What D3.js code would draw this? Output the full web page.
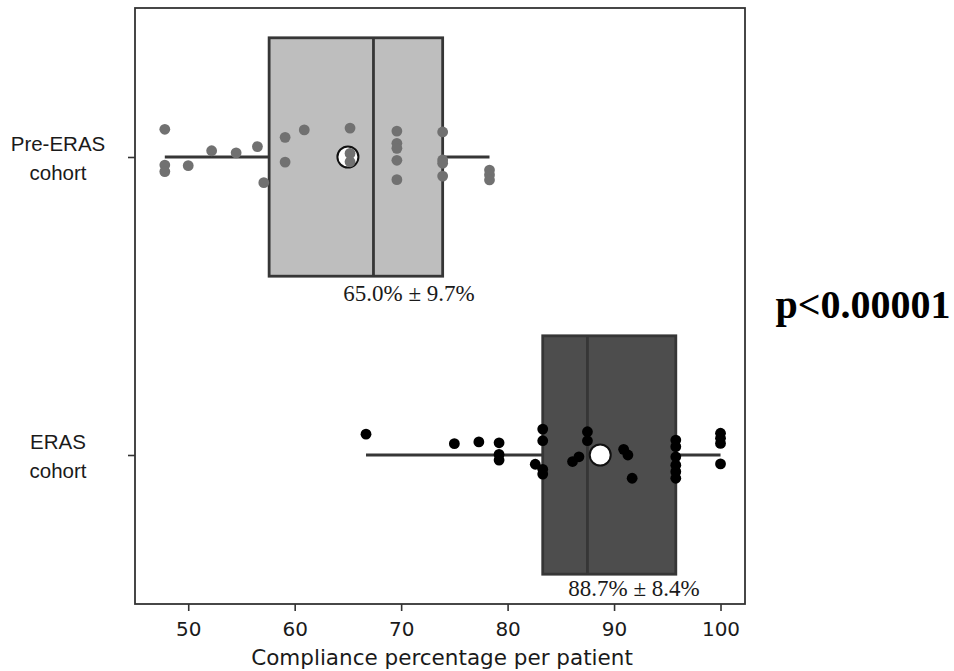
<!DOCTYPE html>
<html>
<head>
<meta charset="utf-8">
<script src="https://cdn.jsdelivr.net/npm/d3@7"></script>
<style>
  body { margin: 0; background: #fff; }
</style>
</head>
<body>
<div id="chart"><svg></svg></div>
<script>
const cohorts = ["Pre-ERAS cohort", "ERAS cohort"]
const boxStats = [
  { q1: 57.6, median: 67.4, q3: 73.9, lo: 47.8, hi: 78.3 },
  { q1: 83.3, median: 87.5, q3: 95.8, lo: 66.7, hi: 100 },
]
const means = [65.0, 88.7]
const meanLabels = ["65.0% ± 9.7%", "88.7% ± 8.4%"]
// per-patient compliance, with the strip jitter (in category units)
const preValues = [47.8, 47.8, 47.8, 50.0, 52.2, 54.5, 56.5, 57.1, 59.1, 59.1, 60.9, 65.2, 65.2, 65.2,
  69.6, 69.6, 69.6, 69.6, 69.6, 73.9, 73.9, 73.9, 73.9, 78.3, 78.3, 78.3]
const preJitter = [-0.093, 0.027, 0.049, 0.029, -0.021, -0.014, -0.035, 0.086, -0.066, 0.017, -0.091, -0.097, -0.012, 0.016,
  -0.087, -0.046, -0.029, 0.011, 0.076, -0.084, 0.010, 0.021, 0.064, 0.044, 0.060, 0.077]
const erasValues = [66.7, 75.0, 77.3, 79.2, 79.2, 79.2, 82.6, 83.3, 83.3, 83.3, 83.3, 86.1, 86.7, 87.5, 87.5,
  90.9, 91.3, 91.7, 95.8, 95.8, 95.8, 95.8, 95.8, 95.8, 100, 100, 100, 100]
const erasJitter = [-0.070, -0.038, -0.044, -0.041, -0.002, 0.017, 0.031, -0.087, -0.048, 0.048, 0.064, 0.022, 0.006, -0.078, -0.048,
  -0.019, 0.000, 0.078, -0.050, -0.028, 0.006, 0.034, 0.056, 0.078, -0.073, -0.056, -0.039, 0.030]
const xTicks = [50, 60, 70, 80, 90, 100]
const pText = "p<0.00001"

const width = 954
const height = 671
const plotLeft = 135, plotRight = 745, plotTop = 8, plotBottom = 604

const svg = d3.select("#chart svg").attr("width", width).attr("height", height)

const x = d3.scaleLinear().domain([45.0, 102.3]).range([plotLeft, plotRight])
const y = d3.scaleLinear().domain([-0.5, 1.5]).range([plotTop, plotBottom])
const boxFill = ["#bebebe", "#4d4d4d"]
const dotFill = ["#717171", "#000000"]
const edge = "#363636"

const points = [
  preValues.map((v, i) => ({ v, j: preJitter[i], c: 0 })),
  erasValues.map((v, i) => ({ v, j: erasJitter[i], c: 1 })),
].flat()

// boxes
boxStats.forEach((b, i) => {
  const g = svg.append("g")
  const y0 = y(i - 0.4), y1 = y(i + 0.4)
  g.append("line").attr("x1", x(b.lo)).attr("x2", x(b.q1)).attr("y1", y(i)).attr("y2", y(i))
    .attr("stroke", edge).attr("stroke-width", 2.8)
  g.append("line").attr("x1", x(b.q3)).attr("x2", x(b.hi)).attr("y1", y(i)).attr("y2", y(i))
    .attr("stroke", edge).attr("stroke-width", 2.8)
  g.append("rect").attr("x", x(b.q1)).attr("y", y0)
    .attr("width", x(b.q3) - x(b.q1)).attr("height", y1 - y0)
    .attr("fill", boxFill[i]).attr("stroke", edge).attr("stroke-width", 2.8)
  g.append("line").attr("x1", x(b.median)).attr("x2", x(b.median)).attr("y1", y0).attr("y2", y1)
    .attr("stroke", edge).attr("stroke-width", 2.8)
})

// means (drawn under the points)
svg.append("g").selectAll("circle").data(means).join("circle")
  .attr("cx", d => x(d))
  .attr("cy", (d, i) => y(i))
  .attr("r", 10.5)
  .attr("fill", "#fff")
  .attr("stroke", "#111")
  .attr("stroke-width", 2)

// strip points
svg.append("g").selectAll("circle").data(points).join("circle")
  .attr("cx", d => x(d.v))
  .attr("cy", d => y(d.c + d.j))
  .attr("r", 5.4)
  .attr("fill", d => dotFill[d.c])

// frame
svg.append("rect").attr("x", plotLeft).attr("y", plotTop)
  .attr("width", plotRight - plotLeft).attr("height", plotBottom - plotTop)
  .attr("fill", "none").attr("stroke", "#333").attr("stroke-width", 1.8)

// x axis
const xAxis = svg.append("g")
  .attr("transform", `translate(0, ${plotBottom})`)
  .call(d3.axisBottom(x).tickValues(xTicks).tickSize(7).tickPadding(11).tickSizeOuter(0))
xAxis.select(".domain").remove()
xAxis.selectAll("line").attr("stroke", "#333").attr("stroke-width", 1.6)
xAxis.selectAll("text").attr("font-family", "DejaVu Sans").attr("font-size", 20).attr("fill", "#1a1a1a")

svg.append("text")
  .attr("x", 442).attr("y", 665)
  .attr("text-anchor", "middle")
  .attr("font-family", "DejaVu Sans").attr("font-size", 21.5).attr("fill", "#1a1a1a")
  .text("Compliance percentage per patient")

// y axis
const yAxis = svg.append("g")
  .attr("transform", `translate(${plotLeft}, 0)`)
  .call(d3.axisLeft(y).tickValues([0, 1]).tickSize(7).tickFormat(() => "").tickSizeOuter(0))
yAxis.select(".domain").remove()
yAxis.selectAll("line").attr("stroke", "#333").attr("stroke-width", 1.6)

cohorts.forEach((c, i) => {
  const words = c.split(" ")
  const t = svg.append("text")
    .attr("x", 58).attr("y", y(i) - 6)
    .attr("text-anchor", "middle")
    .attr("font-family", "Liberation Sans").attr("font-size", 20.5).attr("fill", "#1a1a1a")
  words.forEach((w, k) => {
    t.append("tspan").attr("x", 58).attr("dy", k === 0 ? 0 : 28.7).text(w)
  })
})

// mean ± sd labels
const labelX = [409, 634]
const labelGap = [25, 22]
meanLabels.forEach((m, i) => {
  svg.append("text")
    .attr("x", labelX[i])
    .attr("y", y(i + 0.4) + labelGap[i])
    .attr("text-anchor", "middle")
    .attr("font-family", "Liberation Serif").attr("font-size", 23).attr("fill", "#1a1a1a")
    .text(m)
})

svg.append("text")
  .attr("x", 863).attr("y", 318)
  .attr("text-anchor", "middle")
  .attr("font-family", "Liberation Serif").attr("font-weight", "bold")
  .attr("font-size", 40).attr("fill", "#000")
  .text(pText)
</script>
</body>
</html>
